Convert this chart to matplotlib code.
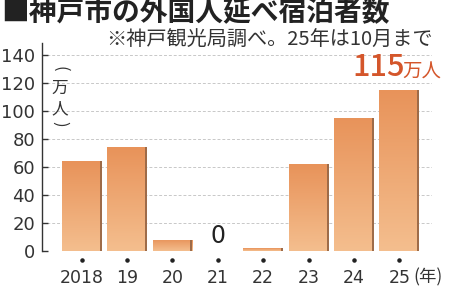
import matplotlib
matplotlib.use('Agg')
from matplotlib import pyplot as plt
from matplotlib.colors import LinearSegmentedColormap
import numpy as np

plt.rcParams['font.family'] = ['Noto Sans CJK JP', 'DejaVu Sans']

# data
years = ['2018', '19', '20', '21', '22', '23', '24', '25']
guests = [64, 74, 8, 0, 2, 62, 95, 115]
yticks = [0, 20, 40, 60, 80, 100, 120, 140]

title = '■神戸市の外国人延べ宿泊者数'
note = '※神戸観光局調べ。25年は10月まで'

num_font = 'DejaVu Sans'

fig = plt.figure(figsize=(4.5, 2.87), dpi=100)
ax = fig.add_axes([0.0933, 0.1254, 0.8667, 0.7247])

x = np.arange(len(years))
width = 0.875

# dashed grid
ax.set_yticks(yticks)
ax.set_yticklabels([str(v) for v in yticks], fontfamily=num_font, fontsize=13)
ax.yaxis.grid(True, linestyle=(0, (3, 2)), color='#c8c8c8', linewidth=0.7)
ax.set_axisbelow(True)

# bars with vertical gradient
cmap = LinearSegmentedColormap.from_list('bar', ['#f4be8e', '#e8935a'])
grad = np.linspace(0, 1, 100).reshape(-1, 1)
bars = ax.bar(x, guests, width, color='none', edgecolor='none', zorder=2)
for rect, val in zip(bars, guests):
    if val <= 0:
        continue
    x0 = rect.get_x()
    im = ax.imshow(grad, extent=[x0, x0 + width, 0, val], origin='lower',
                   aspect='auto', cmap=cmap, zorder=2)
    im.set_clip_path(rect)
    # shadow on the right side
    ax.plot([x0 + width - 0.02] * 2, [0, val], color='#9c6a48',
            linewidth=1.4, zorder=3, solid_capstyle='butt')

ax.set_xlim(-0.874, 7.72)
ax.set_ylim(0, 148.5)

for side in ['top', 'right', 'bottom']:
    ax.spines[side].set_visible(False)
ax.spines['left'].set_color('#333333')
ax.spines['left'].set_linewidth(1.0)

ax.tick_params(axis='y', direction='in', length=4, width=1.0, color='#333333',
               labelcolor='#333333', pad=5)
ax.set_xticks(x)
ax.set_xticklabels(years, fontfamily=num_font, fontsize=12.5)
ax.tick_params(axis='x', length=0, labelcolor='#333333', pad=13)

# dots above the year labels
ax.scatter(x, [-0.043] * len(x), s=5, color='#222222',
           transform=ax.get_xaxis_transform(), clip_on=False, zorder=4)

ax.text(7.3, -0.125, '(年)', transform=ax.get_xaxis_transform(),
        fontsize=12.5, color='#333333', ha='left', va='center')

# unit label, vertical
ax.text(0.046, 0.875, '(', transform=ax.transAxes, fontsize=12, rotation=270,
        color='#333333', ha='center', va='center')
ax.text(0.046, 0.784, '万', transform=ax.transAxes, fontsize=12,
        color='#333333', ha='center', va='center')
ax.text(0.046, 0.683, '人', transform=ax.transAxes, fontsize=12,
        color='#333333', ha='center', va='center')
ax.text(0.046, 0.61, ')', transform=ax.transAxes, fontsize=12, rotation=270,
        color='#333333', ha='center', va='center')

# value labels
ax.text(x[3], 2, '0', fontsize=17, color='#222222', ha='center', va='bottom',
        family=num_font)
ax.annotate('115', (x[7], guests[7]), xytext=(-15, 5), textcoords='offset points',
            fontsize=22, color='#d4562b', ha='center', va='bottom',
            fontweight='medium')
ax.annotate('万人', (x[7], guests[7]), xytext=(2, 5.5), textcoords='offset points',
            fontsize=14, color='#d4562b', ha='left', va='bottom')

fig.text(0.002, 0.955, title, fontsize=20, fontweight='bold',
         color='#222222', ha='left', va='center')
fig.text(0.962, 0.86, note, fontsize=14.5, color='#333333', ha='right',
         va='center')

fig.savefig('out.png', dpi=100)
